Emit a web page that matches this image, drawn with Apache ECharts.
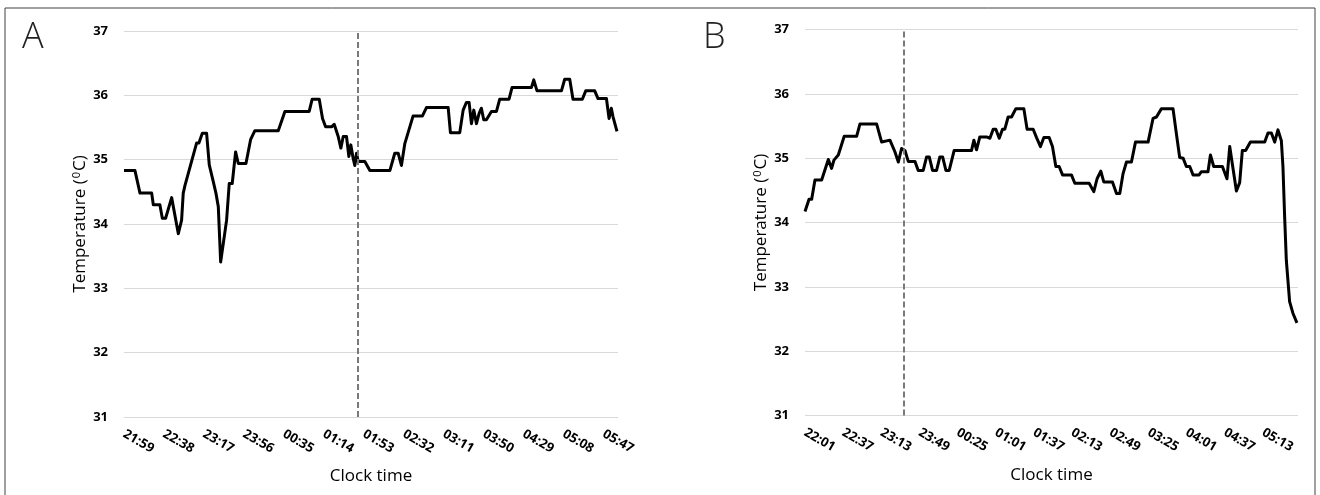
<!DOCTYPE html>
<html>
<head>
<meta charset="utf-8">
<script src="https://cdn.jsdelivr.net/npm/echarts@6/dist/echarts.min.js"></script>
<style>
html,body{margin:0;padding:0;background:#fff;}
#chart{width:1320px;height:495px;}
</style>
</head>
<body>
<div id="chart"></div>
<script>
// Panel A: minutes after first reading (21:59) and skin temperature (°C)
const timesA = [0,10.7,15.6,27,28.6,35,37.4,40.6,46.5,53,56.2,57.8,59.5,70.9,73.1,76.4,80.6,83.2,87.1,89.7,92,94.3,97.8,100.1,102.7,105.6,108.9,111.5,119,123.5,127.7,150.5,157,180.7,183.6,190.5,193.7,196.7,202.5,205.1,209,211.6,213.9,217.1,219.4,221.3,223.6,225.2,226.9,228.5,235,239.9,259.4,264.2,267.5,270.7,274,282.1,291.2,295.1,316.3,318.5,327.6,330.9,334.1,336.7,339,341.3,343.9,346.5,348.7,351,353.6,358.5,363.4,366.6,375.7,378.6,397.5,399.8,403,426.8,430,434.9,438.1,447.2,450.5,459.3,462.5,470.7,473.3,475.5,477.1,478.7,481];
const tempsA = [34.83,34.83,34.48,34.48,34.30,34.30,34.09,34.09,34.41,33.85,34.06,34.48,34.60,35.26,35.26,35.41,35.41,34.92,34.66,34.48,34.27,33.41,33.80,34.06,34.63,34.63,35.12,34.94,34.94,35.31,35.45,35.45,35.75,35.75,35.94,35.94,35.64,35.51,35.51,35.55,35.36,35.18,35.36,35.36,35.05,35.23,35.02,34.91,35.10,34.97,34.97,34.83,34.83,35.10,35.10,34.91,35.25,35.68,35.68,35.81,35.81,35.42,35.42,35.77,35.89,35.89,35.56,35.77,35.56,35.72,35.80,35.62,35.62,35.75,35.75,35.94,35.94,36.12,36.12,36.24,36.07,36.07,36.25,36.25,35.94,35.94,36.07,36.07,35.95,35.95,35.64,35.80,35.67,35.69,35.44];
const tickLabelsA = ['21:59','22:38','23:17','23:56','00:35','01:14','01:53','02:32','03:11','03:50','04:29','05:08','05:47'];
const tickStepA = 39;   // minutes between labels
const endA = 482;       // minutes covered by panel A
const markerA = 228;    // dashed reference line (minutes)

// Panel B: minutes after first reading (22:01)
const timesB = [0,3.8,6.3,9.4,15.7,22,25.1,27.3,31.4,37,48.7,51.8,67.6,72.3,80.1,84.8,88,91.1,94.3,97.4,103.7,106.8,111.5,114.7,117.2,120.3,124.1,127.2,129.8,132.9,136,140.7,157.1,159.3,161.8,164.9,171.2,174.4,177.5,180,183.2,186.3,188.5,191.6,194.8,198.9,206.4,209.5,215.2,218.4,222.1,225.3,230.3,233.4,236.6,239.7,242.9,251.3,254.5,268,272.4,275.5,279,281.8,290,293.8,296.9,300,303.2,307.9,311.7,323.6,328.3,331.5,336.2,347.1,350.3,353.4,356.6,359.7,362.9,366,371.7,373.9,380.1,382.4,385.5,393.7,398,400.6,403.7,406.9,410,412.5,415.6,420.1,433.6,436.7,439.9,443,446.1,449.3,450.8,452.4,454,457.1,460.2,464];
const tempsB = [34.17,34.36,34.36,34.66,34.66,34.98,34.84,34.97,35.05,35.34,35.34,35.53,35.53,35.25,35.28,35.10,34.94,35.15,35.12,34.95,34.95,34.81,34.81,35.02,35.02,34.81,34.81,35.02,35.02,34.81,34.81,35.12,35.12,35.28,35.13,35.33,35.33,35.31,35.45,35.45,35.31,35.45,35.45,35.64,35.64,35.77,35.77,35.45,35.45,35.32,35.18,35.32,35.32,35.18,34.87,34.87,34.74,34.74,34.61,34.61,34.48,34.68,34.80,34.63,34.63,34.45,34.45,34.76,34.94,34.94,35.25,35.25,35.62,35.64,35.77,35.77,35.38,35.01,35.00,34.87,34.87,34.74,34.74,34.79,34.79,35.05,34.87,34.87,34.68,35.18,34.84,34.49,34.62,35.12,35.12,35.25,35.25,35.39,35.39,35.25,35.44,35.27,34.87,34.09,33.41,32.77,32.59,32.44];
const tickLabelsB = ['22:01','22:37','23:13','23:49','00:25','01:01','01:37','02:13','02:49','03:25','04:01','04:37','05:13'];
const tickStepB = 36;
const endB = 465;
const markerB = 93;

const zip = (xs, ys) => xs.map((x, i) => [x, ys[i]]);

const FONT = '"Open Sans", "Liberation Sans", sans-serif';

function xAxisCfg(idx, labels, step, end) {
  return {
    type: 'value', gridIndex: idx, min: 0, max: end, interval: step,
    name: 'Clock time', nameLocation: 'middle', nameGap: 51,
    nameTextStyle: {fontFamily: FONT, fontSize: 17, color: '#000'},
    axisLine: {show: false}, axisTick: {show: false}, splitLine: {show: false},
    axisLabel: {
      rotate: -30, margin: 16, showMaxLabel: false,
      fontFamily: FONT, fontSize: 13, fontWeight: 'bold', color: '#000',
      formatter: v => labels[Math.round(v / step)] || ''
    }
  };
}
function yAxisCfg(idx) {
  return {
    type: 'value', gridIndex: idx, min: 31, max: 37, interval: 1,
    name: 'Temperature ({sup|0}C)', nameLocation: 'middle', nameGap: 35,
    nameTextStyle: {
      fontFamily: FONT, fontSize: 17, color: '#000',
      rich: {sup: {fontFamily: FONT, fontSize: 11, color: '#000', verticalAlign: 'top', padding: [0, 1, 7, 1]}}
    },
    axisLine: {show: false}, axisTick: {show: false},
    splitLine: {lineStyle: {color: '#d9d9d9', width: 1}},
    axisLabel: {margin: 16, fontFamily: FONT, fontSize: 13, fontWeight: 'bold', color: '#000'}
  };
}
function seriesCfg(idx, data, marker) {
  return {
    type: 'line', xAxisIndex: idx, yAxisIndex: idx, data: data,
    showSymbol: false, symbol: 'none', smooth: false,
    lineStyle: {color: '#000', width: 3, join: 'round'},
    animation: false,
    markLine: {
      silent: true, symbol: 'none', label: {show: false},
      lineStyle: {color: '#7a7a7a', width: 2, type: [6, 3]},
      data: [{xAxis: marker}]
    }
  };
}

const chart = echarts.init(document.getElementById('chart'), null, {renderer: 'canvas'});
chart.setOption({
  backgroundColor: '#fff',
  animation: false,
  grid: [
    {left: 124, right: 702, top: 31, bottom: 78},
    {left: 805, right: 22, top: 29.5, bottom: 79.5}
  ],
  xAxis: [xAxisCfg(0, tickLabelsA, tickStepA, endA), xAxisCfg(1, tickLabelsB, tickStepB, endB)],
  yAxis: [yAxisCfg(0), yAxisCfg(1)],
  series: [seriesCfg(0, zip(timesA, tempsA), markerA), seriesCfg(1, zip(timesB, tempsB), markerB)],
  graphic: [
    {type: 'rect', shape: {x: 5, y: 8, width: 1310, height: 500}, style: {fill: 'none', stroke: '#404040', lineWidth: 1}, silent: true},
    {type: 'text', left: 22, top: 20, style: {text: 'A', fontFamily: FONT, fontWeight: 300, fontSize: 36, fill: '#222'}},
    {type: 'text', left: 703, top: 20, style: {text: 'B', fontFamily: FONT, fontWeight: 300, fontSize: 36, fill: '#222'}}
  ]
});
</script>
</body>
</html>
